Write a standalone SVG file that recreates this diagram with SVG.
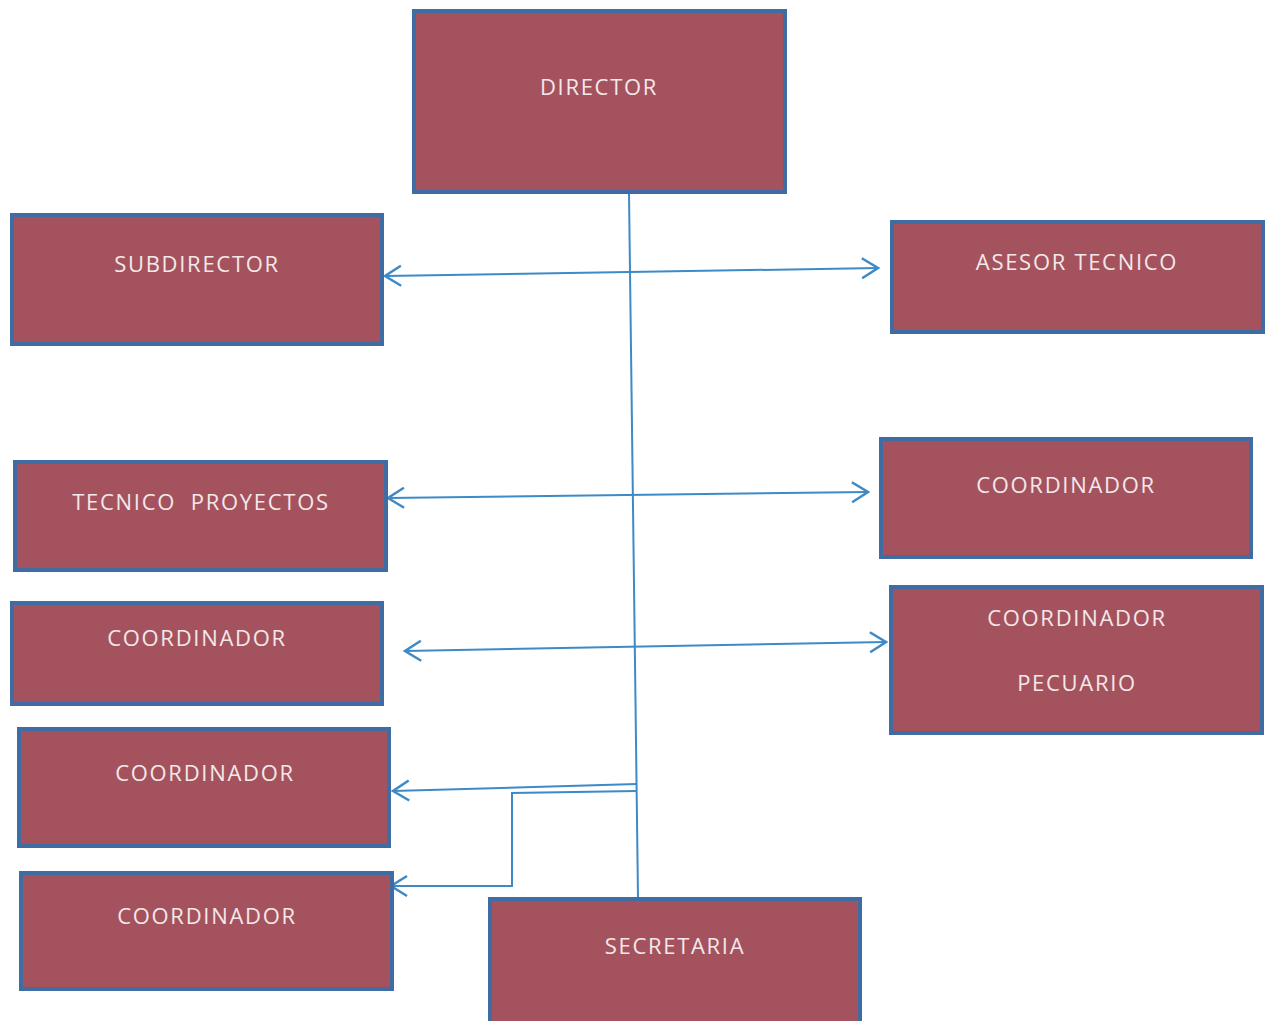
<svg xmlns="http://www.w3.org/2000/svg" width="1272" height="1021" viewBox="0 0 1272 1021">
<defs>
<style>
.box{fill:#A4535E;stroke:#3E6CA3;stroke-width:4}
.t{font-family:"Open Sans","Liberation Sans",sans-serif;font-size:22px;fill:#F4E8EA;text-anchor:middle;letter-spacing:1.7px}
.c{fill:none;stroke:#3D8AC6;stroke-width:2}
</style>
<marker id="ah" viewBox="0 0 20 24" refX="18" refY="12" markerWidth="20" markerHeight="24" markerUnits="userSpaceOnUse" orient="auto-start-reverse">
<path d="M2,2 L18,12 L2,22" fill="none" stroke="#3D8AC6" stroke-width="2.5"/>
</marker>
</defs>
<rect width="1272" height="1021" fill="#FFFFFF"/>
<g id="connectors">
<path class="c" d="M629,193 L638,898"/>
<path class="c" d="M385,276 L878,268" marker-start="url(#ah)" marker-end="url(#ah)"/>
<path class="c" d="M388,498 L868,492" marker-start="url(#ah)" marker-end="url(#ah)"/>
<path class="c" d="M405,651 L886,642" marker-start="url(#ah)" marker-end="url(#ah)"/>
<path class="c" d="M637,784 L393,791" marker-end="url(#ah)"/>
<path class="c" d="M637,791 L512,793 L512,886 L391,886" marker-end="url(#ah)"/>
</g>
<g id="director"><rect class="box" x="414" y="11" width="371" height="181"/><text class="t" x="599" y="95">DIRECTOR</text></g>
<g id="subdirector"><rect class="box" x="12" y="215" width="370" height="129"/><text class="t" x="197" y="272">SUBDIRECTOR</text></g>
<g id="asesor"><rect class="box" x="892" y="222" width="371" height="110"/><text class="t" x="1077" y="270">ASESOR TECNICO</text></g>
<g id="tecnico"><rect class="box" x="15" y="462" width="371" height="108"/><text class="t" x="201" y="510" xml:space="preserve">TECNICO  PROYECTOS</text></g>
<g id="coord-r"><rect class="box" x="881" y="439" width="370" height="118"/><text class="t" x="1066" y="493">COORDINADOR</text></g>
<g id="coord-l3"><rect class="box" x="12" y="603" width="370" height="101"/><text class="t" x="197" y="646">COORDINADOR</text></g>
<g id="pecuario"><rect class="box" x="891" y="587" width="371" height="146"/><text class="t" x="1077" y="626">COORDINADOR</text><text class="t" x="1077" y="691">PECUARIO</text></g>
<g id="coord-l4"><rect class="box" x="19" y="729" width="370" height="117"/><text class="t" x="205" y="781">COORDINADOR</text></g>
<g id="coord-l5"><rect class="box" x="21" y="873" width="371" height="116"/><text class="t" x="207" y="924">COORDINADOR</text></g>
<g id="secretaria"><rect class="box" x="490" y="899" width="370" height="130"/><text class="t" x="675" y="954">SECRETARIA</text></g>
</svg>
